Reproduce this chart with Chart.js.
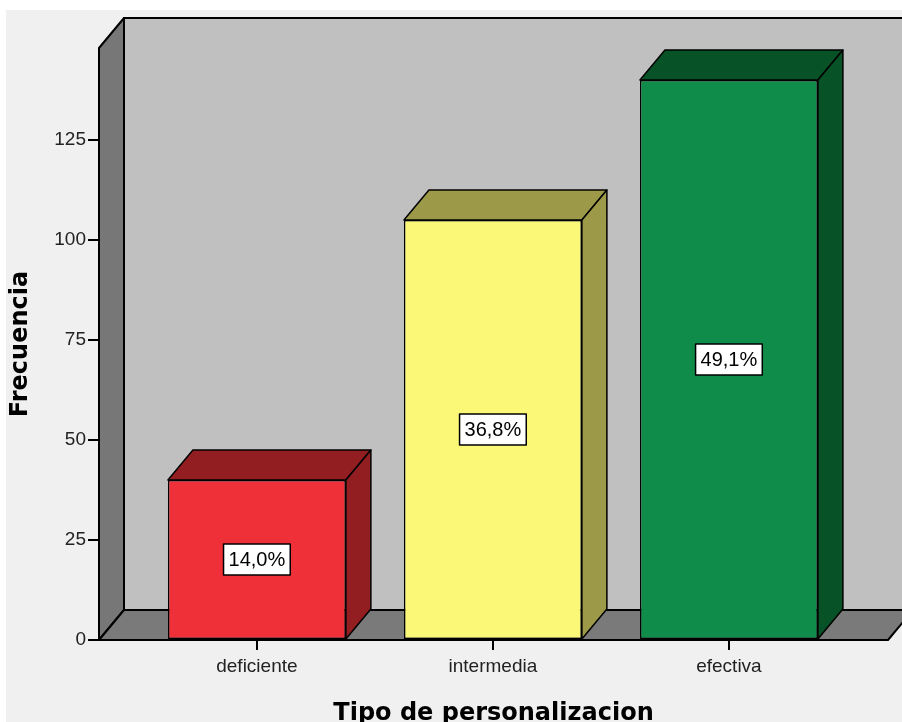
<!DOCTYPE html>
<html>
<head>
<meta charset="utf-8">
<title>Tipo de personalizacion</title>
<script src="https://cdn.jsdelivr.net/npm/chart.js@4/dist/chart.umd.min.js"></script>
<style>
  body { margin: 0; background: #fff; overflow: hidden; }
  canvas { display: block; }
</style>
</head>
<body>
<canvas id="mycanvas" width="902" height="722"></canvas>
<script>
var categorias = ['deficiente', 'intermedia', 'efectiva'];
var frecuencias = [40, 105, 140];
var yTicks = [0, 25, 50, 75, 100, 125];

var frente = ['#ef3038', '#fbf777', '#0f8b4a'];
var sombra = ['#921e22', '#9c9a48', '#075327'];

var total = frecuencias.reduce(function(a, b) { return a + b; }, 0);
var porcentajes = frecuencias.map(function(v) {
  return (v / total * 100).toFixed(1).replace('.', ',') + '%';
});

// profundidad del efecto 3D
var dx = 25, dy = 30;

function poly(ctx, pts, fill) {
  ctx.beginPath();
  ctx.moveTo(pts[0][0], pts[0][1]);
  for (var i = 1; i < pts.length; i++) ctx.lineTo(pts[i][0], pts[i][1]);
  ctx.closePath();
  ctx.fillStyle = fill;
  ctx.fill();
  ctx.stroke();
}

var cubo3d = {
  id: 'cubo3d',
  beforeDraw: function(chart) {
    var ctx = chart.ctx;
    ctx.save();
    ctx.fillStyle = '#fff';
    ctx.fillRect(0, 0, chart.width, chart.height);
    ctx.fillStyle = '#f0f0f0';
    ctx.fillRect(6, 10, chart.width - 6, chart.height - 10);
    ctx.restore();
  },
  beforeDatasetsDraw: function(chart) {
    var ctx = chart.ctx;
    var a = chart.chartArea;
    ctx.save();
    ctx.strokeStyle = '#000';
    ctx.lineWidth = 2;
    ctx.lineJoin = 'round';
    // pared del fondo
    poly(ctx, [[a.left + dx, a.top - dy], [a.right + dx, a.top - dy],
               [a.right + dx, a.bottom - dy], [a.left + dx, a.bottom - dy]], '#c0c0c0');
    // pared izquierda
    poly(ctx, [[a.left, a.top], [a.left + dx, a.top - dy],
               [a.left + dx, a.bottom - dy], [a.left, a.bottom]], '#777777');
    // piso
    poly(ctx, [[a.left, a.bottom], [a.left + dx, a.bottom - dy],
               [a.right + dx, a.bottom - dy], [a.right, a.bottom]], '#7a7a7a');
    ctx.restore();
  },
  afterDatasetsDraw: function(chart) {
    var ctx = chart.ctx;
    var meta = chart.getDatasetMeta(0);
    ctx.save();
    ctx.strokeStyle = '#000';
    ctx.lineWidth = 1.5;
    ctx.lineJoin = 'round';
    meta.data.forEach(function(bar, i) {
      var l = bar.x - bar.width / 2, r = bar.x + bar.width / 2;
      poly(ctx, [[l, bar.y], [l + dx, bar.y - dy], [r + dx, bar.y - dy], [r, bar.y]], sombra[i]);
      poly(ctx, [[r, bar.y], [r + dx, bar.y - dy], [r + dx, bar.base - dy], [r, bar.base]], sombra[i]);
    });

    // etiquetas de porcentaje
    ctx.font = '20px "Liberation Sans", Arial, sans-serif';
    ctx.textAlign = 'center';
    ctx.textBaseline = 'middle';
    meta.data.forEach(function(bar, i) {
      var cy = (bar.y + bar.base) / 2;
      var w = ctx.measureText(porcentajes[i]).width + 10;
      var h = 31;
      ctx.fillStyle = '#fff';
      ctx.fillRect(bar.x - w / 2, cy - h / 2, w, h);
      ctx.strokeRect(bar.x - w / 2, cy - h / 2, w, h);
      ctx.fillStyle = '#000';
      ctx.fillText(porcentajes[i], bar.x, cy + 1);
    });
    ctx.restore();
  }
};

var ctx = document.getElementById('mycanvas');

var barGraph = new Chart(ctx, {
  type: 'bar',
  data: {
    datasets: [{
      label: 'Frecuencia',
      data: frecuencias.map(function(v, i) { return { x: i, y: v }; }),
      backgroundColor: frente,
      borderColor: '#000',
      borderWidth: 1.5,
      borderSkipped: false,
      categoryPercentage: 1,
      barPercentage: 0.754
    }]
  },
  options: {
    responsive: false,
    animation: false,
    devicePixelRatio: 1,
    layout: { padding: { left: 6, top: 48, right: 14, bottom: 0 } },
    plugins: {
      legend: { display: false },
      tooltip: { enabled: false }
    },
    scales: {
      x: {
        type: 'linear',
        offset: false,
        min: -0.669,
        max: 2.674,
        afterBuildTicks: function(scale) {
          scale.ticks = categorias.map(function(c, i) { return { value: i }; });
        },
        afterFit: function(scale) { scale.height = 82; },
        ticks: {
          callback: function(v) { return categorias[v]; },
          color: '#222',
          padding: 5,
          maxRotation: 0,
          font: { family: '"Liberation Sans", Arial, sans-serif', size: 19 }
        },
        grid: { offset: false, drawOnChartArea: false, drawTicks: true, tickLength: 10, color: '#000', lineWidth: 2 },
        border: { display: false },
        title: {
          display: true,
          text: 'Tipo de personalizacion',
          color: '#000',
          padding: { top: 0, bottom: -6 },
          font: { family: '"DejaVu Sans", sans-serif', size: 24, weight: 'bold' }
        }
      },
      y: {
        min: 0,
        max: 148,
        afterBuildTicks: function(scale) {
          scale.ticks = yTicks.map(function(v) { return { value: v }; });
        },
        afterFit: function(scale) { scale.width = 93; },
        ticks: {
          color: '#222',
          padding: 2,
          font: { family: '"Liberation Sans", Arial, sans-serif', size: 19 }
        },
        grid: { drawOnChartArea: false, drawTicks: true, tickLength: 11, color: '#000', lineWidth: 2 },
        border: { display: false },
        title: {
          display: true,
          text: 'Frecuencia',
          color: '#000',
          padding: { top: 0, bottom: 0 },
          font: { family: '"DejaVu Sans", sans-serif', size: 24, weight: 'bold' }
        }
      }
    }
  },
  plugins: [cubo3d]
});
</script>
</body>
</html>
